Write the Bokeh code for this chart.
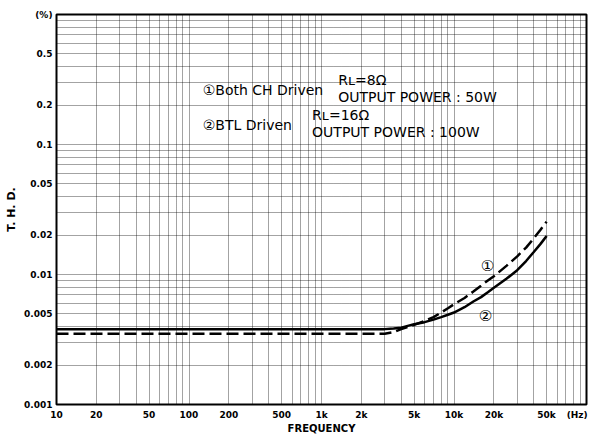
from bokeh.plotting import figure
from bokeh.models import FixedTicker, Label
from bokeh.embed import file_html
from bokeh.resources import INLINE

# ---- data ----
freq = [10, 100, 1000, 3000, 3500, 4000, 5000, 6000, 7000, 8000, 9000, 10000, 12000, 14000,
        16000, 18000, 20000, 25000, 30000, 35000, 40000, 45000, 50000]
thd_both_ch = [0.0035, 0.0035, 0.0035, 0.0035, 0.0036, 0.0038, 0.0041, 0.0044, 0.0047, 0.0051, 0.0055,
               0.0059, 0.0066, 0.0074, 0.0082, 0.0090, 0.0097, 0.0117, 0.0138, 0.0161, 0.0190, 0.0221, 0.0255]
thd_btl = [0.0038, 0.0038, 0.0038, 0.0038, 0.00385, 0.0039, 0.00415, 0.0043, 0.0045, 0.0047, 0.0049,
           0.0051, 0.0056, 0.0062, 0.0067, 0.0073, 0.0079, 0.0093, 0.0108, 0.0127, 0.0149, 0.0172, 0.0198]

x_ticks = [10, 20, 50, 100, 200, 500, 1000, 2000, 5000, 10000, 20000, 50000, 85000]
x_tick_labels = ["10", "20", "50", "100", "200", "500", "1k", "2k", "5k", "10k", "20k", "50k", "(Hz)"]
y_ticks = [0.001, 0.002, 0.005, 0.01, 0.02, 0.05, 0.1, 0.2, 0.5, 1.0]
y_tick_labels = ["0.001", "0.002", "0.005", "0.01", "0.02", "0.05", "0.1", "0.2", "0.5", "(%)"]

grid_x = [m * 10 ** e for e in range(1, 5) for m in range(1, 10)] + [100000]
grid_y = [m * 10.0 ** e for e in range(-3, 0) for m in range(1, 10)] + [1.0]

FONT = "DejaVu Sans"

p = figure(width=590, height=436, x_axis_type="log", y_axis_type="log",
           x_range=(10, 100000), y_range=(0.001, 1.0),
           output_backend="svg", toolbar_location=None,
           min_border_left=56, min_border_right=4, min_border_top=14, min_border_bottom=30)
p.background_fill_color = "white"
p.border_fill_color = "white"
p.outline_line_color = "black"
p.outline_line_width = 2

# grid
p.xgrid.ticker = FixedTicker(ticks=grid_x)
p.ygrid.ticker = FixedTicker(ticks=grid_y)
for g in (p.xgrid, p.ygrid):
    g.grid_line_color = "black"
    g.grid_line_dash = "1 1"
    g.grid_line_width = 1
    g.grid_line_alpha = 0.72

# axes
p.xaxis.ticker = FixedTicker(ticks=x_ticks)
p.yaxis.ticker = FixedTicker(ticks=y_ticks)
p.xaxis.major_label_overrides = {t: l for t, l in zip(x_ticks, x_tick_labels)}
p.yaxis.major_label_overrides = {t: l for t, l in zip(y_ticks, y_tick_labels)}
for ax in (p.xaxis, p.yaxis):
    ax.axis_line_color = None
    ax.major_tick_line_color = None
    ax.minor_tick_line_color = None
    ax.major_tick_out = 0
    ax.major_tick_in = 0
    ax.minor_tick_out = 0
    ax.minor_tick_in = 0
    ax.major_label_text_font = FONT
    ax.major_label_text_font_style = "bold"
    ax.major_label_text_font_size = "9px"
    ax.major_label_text_color = "black"
    ax.axis_label_text_font = FONT
    ax.axis_label_text_font_style = "bold"
    ax.axis_label_text_color = "black"
p.xaxis.major_label_standoff = 5
p.yaxis.major_label_standoff = 4
p.xaxis.axis_label = "FREQUENCY"
p.xaxis.axis_label_text_font_size = "10px"
p.xaxis.axis_label_standoff = 0
p.yaxis.axis_label = "T. H. D."
p.yaxis.axis_label_text_font_size = "11px"
p.yaxis.axis_label_standoff = 3

# curves
p.line(freq, thd_btl, line_color="black", line_width=2.5)
p.line(freq, thd_both_ch, line_color="black", line_width=2.5, line_dash="12 5")

# annotations
def lab(x, y, text, size="14px"):
    p.add_layout(Label(x=x, y=y, text=text, text_font=FONT, text_font_size=size,
                       text_baseline="middle", text_align="left", text_color="black"))

lab(127, 0.263, "\u2460Both CH Driven")
lab(1336, 0.313, "R\u029f=8\u03a9")
lab(1336, 0.232, "OUTPUT POWER : 50W")
lab(127, 0.142, "\u2461BTL Driven")
lab(849, 0.169, "R\u029f=16\u03a9")
lab(849, 0.124, "OUTPUT POWER : 100W")

p.add_layout(Label(x=17900, y=0.0117, text="\u2460", text_font=FONT, text_font_size="15px",
                   text_baseline="middle", text_align="center", text_color="black"))
p.add_layout(Label(x=17300, y=0.00478, text="\u2461", text_font=FONT, text_font_size="15px",
                   text_baseline="middle", text_align="center", text_color="black"))

open("out.html", "w").write(file_html(p, INLINE))
